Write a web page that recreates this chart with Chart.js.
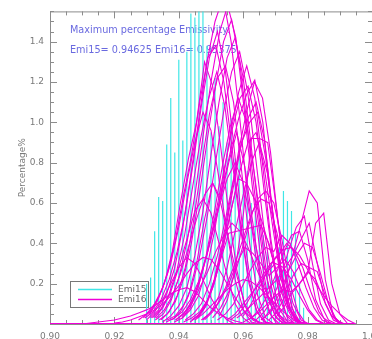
<!DOCTYPE html>
<html><head><meta charset="utf-8">
<script src="https://cdn.jsdelivr.net/npm/chart.js@4.4.1/dist/chart.umd.min.js"></script>
<style>
html,body{margin:0;padding:0;overflow:hidden;background:#fff;width:372px;height:339px}
#wrap{position:absolute;left:0;top:0;width:400px;height:339px}
</style>
</head><body><div id="wrap"><canvas id="c" width="400" height="339"></canvas></div>
<script>
// ---- tick labels / names / notes ----
const xTickLabels = ['0.90','0.92','0.94','0.96','0.98','1.00'];
const yTickLabels = ['0.2','0.4','0.6','0.8','1.0','1.2','1.4'];
const seriesNames = ['Emi15','Emi16'];
const yAxisTitle = 'Percentage%';
const noteLines = ['Maximum percentage Emissivity:', 'Emi15= 0.94625 Emi16= 0.95375'];

// ---- Emi15 (cyan spikes) ----
const emi15X = [0.93000,0.93125,0.93250,0.93375,0.93500,0.93625,0.93750,0.93875,0.94000,0.94125,
                0.94250,0.94375,0.94500,0.94625,0.94750,0.94875,0.95000,0.95125,0.95250,0.95375,
                0.95500,0.95625,0.95750,0.95875,0.96000,0.96125,0.96250,0.96375,0.96500,0.96625,
                0.96750,0.96875,0.97000,0.97125,0.97250,0.97375,0.97500,0.97625,0.97750,0.97875];
const emi15Y = [0.20,0.23,0.46,0.63,0.61,0.89,1.12,0.85,1.31,0.91,
                1.35,1.54,1.52,1.62,1.58,1.38,0.95,1.22,0.98,1.10,
                0.90,1.02,0.82,0.88,0.70,0.76,0.60,0.56,0.50,0.44,
                0.36,0.30,0.24,0.38,0.66,0.61,0.56,0.45,0.20,0.08];

// ---- Emi16 (magenta curves): bin width, start of each curve, values ----
const binWidth = 0.0025;
const emi16Start = [0.93125,0.9339,0.9364,0.9361,0.9295,0.9290,0.9305,0.9327,0.9386,0.9415,
                    0.9275,0.9350,0.9318,0.9440,0.9400,0.9330,0.9526,0.9455,0.9470,0.9200,
                    0.9100,0.9450,0.9550,0.9600,0.9300,0.9655,0.9640,0.9625,0.9600,0.9665,
                    0.9680,0.9475,0.9420,0.9390,0.9380,0.9435,0.9410,0.9345,0.9460,0.9505,
                    0.9520,0.9480,0.9390,0.9325,0.9560,0.9580,0.9700];
const emi16_01 = [0.03,0.07,0.15,0.28,0.48,0.74,1.02,1.3,1.5,1.62,1.4,1.05,0.65,0.35,0.15,0.04,0];
const emi16_02 = [0.02,0.05,0.11,0.22,0.4,0.64,0.92,1.18,1.4,1.51,1.3,0.96,0.6,0.3,0.11,0.03,0];
const emi16_03 = [0.02,0.04,0.09,0.18,0.33,0.54,0.8,1.05,1.25,1.35,1.15,0.82,0.48,0.22,0.07,0.01,0];
const emi16_04 = [0.01,0.03,0.06,0.12,0.21,0.34,0.5,0.68,0.86,1.02,1.14,1.21,1.0,0.62,0.3,0.1,0.02,0];
const emi16_05 = [0.03,0.06,0.12,0.22,0.36,0.55,0.8,1.08,1.32,1.45,1.25,0.9,0.52,0.24,0.08,0.01,0];
const emi16_06 = [0.03,0.07,0.14,0.25,0.42,0.64,0.84,1.1,1.32,1.38,1.2,0.88,0.52,0.24,0.07,0.01,0];
const emi16_07 = [0.04,0.1,0.2,0.36,0.6,0.82,1.0,1.3,1.18,0.88,0.55,0.27,0.09,0.02,0];
const emi16_08 = [0.02,0.05,0.12,0.24,0.42,0.66,0.95,1.22,1.45,1.58,1.42,1.08,0.7,0.36,0.13,0.03,0];
const emi16_09 = [0.01,0.03,0.07,0.14,0.27,0.46,0.7,0.95,1.15,1.28,1.12,0.78,0.42,0.16,0.04,0];
const emi16_10 = [0.01,0.03,0.06,0.12,0.24,0.42,0.64,0.86,1.02,1.1,0.92,0.58,0.28,0.09,0.02,0];
const emi16_11 = [0.02,0.05,0.1,0.18,0.3,0.48,0.7,0.9,1.05,0.96,0.72,0.45,0.22,0.07,0.01,0];
const emi16_12 = [0.01,0.04,0.09,0.18,0.34,0.56,0.84,1.1,1.32,1.42,1.22,0.88,0.52,0.22,0.06,0.01,0];
const emi16_13 = [0.03,0.07,0.14,0.26,0.44,0.68,0.92,1.12,1.25,1.08,0.78,0.46,0.2,0.06,0.01,0];
const emi16_14 = [0.02,0.05,0.12,0.24,0.4,0.58,0.76,0.9,0.95,0.78,0.5,0.24,0.08,0.01,0];
const emi16_15 = [0.03,0.07,0.15,0.27,0.42,0.58,0.72,0.8,0.7,0.5,0.3,0.14,0.04,0];
const emi16_16 = [0.03,0.07,0.14,0.25,0.38,0.52,0.64,0.7,0.6,0.42,0.24,0.1,0.03,0];
const emi16_17 = [0.04,0.12,0.28,0.55,0.92,0.92,0.9,0.6,0.28,0.08,0.01,0];
const emi16_18 = [0.03,0.08,0.18,0.32,0.45,0.46,0.47,0.48,0.49,0.4,0.24,0.1,0.02,0];
const emi16_19 = [0.02,0.05,0.1,0.18,0.28,0.4,0.52,0.62,0.66,0.6,0.42,0.2,0.06,0];
const emi16_20 = [0.005,0.01,0.02,0.035,0.05,0.07,0.1,0.14,0.19,0.25,0.3,0.33,0.32,0.27,0.2,0.13,0.07,0.03,0.01,0];
const emi16_21 = [0,0.005,0.01,0.015,0.02,0.03,0.04,0.055,0.07,0.09,0.12,0.15,0.17,0.18,0.16,0.12,0.08,0.05,0.03,0.015,0.005,0];
const emi16_22 = [0.02,0.05,0.09,0.13,0.17,0.2,0.22,0.21,0.18,0.14,0.1,0.06,0.03,0.01,0];
const emi16_23 = [0.02,0.05,0.1,0.15,0.2,0.26,0.3,0.28,0.22,0.14,0.07,0.02,0];
const emi16_24 = [0.01,0.03,0.06,0.1,0.14,0.17,0.16,0.2,0.26,0.22,0.12,0.04,0];
const emi16_25 = [0.02,0.06,0.12,0.2,0.28,0.33,0.3,0.22,0.13,0.06,0.02,0];
const emi16_26 = [0.02,0.05,0.1,0.2,0.35,0.5,0.66,0.6,0.22,0.04,0];
const emi16_27 = [0.02,0.06,0.12,0.22,0.36,0.48,0.535,0.3,0.1,0.02,0];
const emi16_28 = [0.03,0.07,0.14,0.24,0.35,0.44,0.46,0.32,0.12,0.03,0];
const emi16_29 = [0.04,0.1,0.18,0.26,0.33,0.37,0.38,0.34,0.27,0.2,0.14,0.09,0.05,0.02,0];
const emi16_30 = [0.03,0.08,0.16,0.26,0.34,0.4,0.38,0.25,0.1,0.02,0];
const emi16_31 = [0.02,0.06,0.14,0.24,0.3,0.28,0.26,0.14,0.04,0];
const emi16_32 = [0.02,0.06,0.14,0.28,0.46,0.64,0.8,0.9,0.75,0.45,0.2,0.06,0.01,0];
const emi16_33 = [0.02,0.05,0.1,0.2,0.34,0.52,0.72,0.9,1.0,1.05,0.82,0.5,0.25,0.08,0.01,0];
const emi16_34 = [0.02,0.05,0.11,0.21,0.36,0.55,0.76,0.96,1.12,1.18,1.0,0.66,0.34,0.12,0.02,0];
const emi16_35 = [0.02,0.06,0.14,0.3,0.52,0.7,0.62,0.8,0.95,0.78,0.5,0.22,0.06,0];
const emi16_36 = [0.01,0.04,0.1,0.22,0.4,0.62,0.85,1.05,1.2,1.12,0.85,0.48,0.18,0.04,0];
const emi16_37 = [0.03,0.08,0.18,0.34,0.55,0.78,0.98,1.12,1.0,0.74,0.45,0.2,0.05,0];
const emi16_38 = [0.02,0.06,0.14,0.28,0.5,0.78,1.04,1.22,1.28,1.1,0.76,0.4,0.14,0.03,0];
const emi16_39 = [0.03,0.09,0.2,0.36,0.55,0.72,0.7,0.62,0.5,0.36,0.22,0.1,0.03,0];
const emi16_40 = [0.03,0.08,0.16,0.28,0.42,0.56,0.62,0.6,0.45,0.26,0.1,0.02,0];
const emi16_41 = [0.02,0.05,0.1,0.18,0.26,0.33,0.38,0.36,0.44,0.4,0.3,0.18,0.08,0.02,0];
const emi16_42 = [0.02,0.06,0.12,0.2,0.3,0.38,0.35,0.3,0.24,0.28,0.32,0.26,0.16,0.07,0.02,0];
const emi16_43 = [0.02,0.05,0.1,0.18,0.26,0.36,0.44,0.5,0.46,0.38,0.28,0.18,0.1,0.04,0.01,0];
const emi16_44 = [0.03,0.08,0.16,0.28,0.42,0.56,0.62,0.55,0.4,0.24,0.1,0.03,0];
const emi16_45 = [0.02,0.05,0.1,0.17,0.24,0.3,0.34,0.4,0.36,0.28,0.16,0.06,0.01,0];
const emi16_46 = [0.03,0.06,0.1,0.14,0.18,0.22,0.28,0.34,0.42,0.5,0.3,0.1,0.02,0];
const emi16_47 = [0.03,0.08,0.15,0.2,0.25,0.5,0.55,0.2,0.05,0];
const emi16BaseX = [0.90, 0.9945];
const emi16BaseY = [0, 0];

const emi16Curves = [emi16_01,emi16_02,emi16_03,emi16_04,emi16_05,emi16_06,emi16_07,emi16_08,emi16_09,emi16_10,
                     emi16_11,emi16_12,emi16_13,emi16_14,emi16_15,emi16_16,emi16_17,emi16_18,emi16_19,emi16_20,
                     emi16_21,emi16_22,emi16_23,emi16_24,emi16_25,emi16_26,emi16_27,emi16_28,emi16_29,emi16_30,
                     emi16_31,emi16_32,emi16_33,emi16_34,emi16_35,emi16_36,emi16_37,emi16_38,emi16_39,emi16_40,
                     emi16_41,emi16_42,emi16_43,emi16_44,emi16_45,emi16_46,emi16_47];

// ---- styles ----
const CYAN = '#3fe6e6';
const MAGENTA = '#f000d8';
const AXIS = '#8c8c8c';
const TXT = '#7a7a7a';
const NOTE = '#6a6ae0';
const FONT = '"DejaVu Sans", sans-serif';

// ---- build datasets ----
const datasets = [];
const cyanPts = [];
emi15X.forEach((x, i) => { cyanPts.push({x, y: 0}, {x, y: emi15Y[i]}, {x, y: 0}); });
datasets.push({label: seriesNames[0], data: cyanPts, borderColor: CYAN, borderWidth: 1.2, order: 2});
emi16Curves.forEach((vals, c) => {
  const s = emi16Start[c];
  datasets.push({label: seriesNames[1], data: vals.map((v, j) => ({x: s + j * binWidth, y: v})),
    borderColor: MAGENTA, borderWidth: 1.1, order: 1});
});
datasets.push({label: seriesNames[1], data: emi16BaseX.map((x, i) => ({x, y: emi16BaseY[i]})),
  borderColor: MAGENTA, borderWidth: 2, order: 1});

const frame = {
  id: 'frame',
  beforeDatasetsDraw(chart) {
    const {ctx, chartArea: a, scales: {x, y}} = chart;
    ctx.save();
    ctx.strokeStyle = AXIS; ctx.lineWidth = 1;
    ctx.strokeRect(a.left + 0.5, a.top + 0.5, a.right - a.left, a.bottom - a.top);
    ctx.beginPath();
    for (let i = 0; i <= 20; i++) {
      const px = Math.round(x.getPixelForValue(x.min + i * 0.005)) + 0.5;
      const L = i % 4 === 0 ? 7 : 4;
      ctx.moveTo(px, a.bottom); ctx.lineTo(px, a.bottom - L);
      ctx.moveTo(px, a.top); ctx.lineTo(px, a.top + L);
    }
    for (let i = 0; i * 0.05 <= y.max + 1e-9; i++) {
      const py = Math.round(y.getPixelForValue(i * 0.05)) + 0.5;
      const L = i % 4 === 0 ? 7 : 4;
      ctx.moveTo(a.left, py); ctx.lineTo(a.left + L, py);
      ctx.moveTo(a.right, py); ctx.lineTo(a.right - L, py);
    }
    ctx.stroke();
    // notes
    ctx.fillStyle = NOTE; ctx.font = '9.7px ' + FONT; ctx.textBaseline = 'middle'; ctx.textAlign = 'left';
    ctx.fillText(noteLines[0], a.left + 20, 30);
    ctx.fillText(noteLines[1], a.left + 20, 50);
    // legend
    ctx.strokeStyle = '#777'; ctx.lineWidth = 1;
    ctx.strokeRect(70.5, 281.5, 78, 26);
    ctx.lineWidth = 1.5;
    ctx.strokeStyle = CYAN; ctx.beginPath(); ctx.moveTo(78, 289.5); ctx.lineTo(112, 289.5); ctx.stroke();
    ctx.strokeStyle = MAGENTA; ctx.beginPath(); ctx.moveTo(78, 299.5); ctx.lineTo(112, 299.5); ctx.stroke();
    ctx.fillStyle = '#666'; ctx.font = '9px ' + FONT;
    ctx.fillText(seriesNames[0], 118, 289.5);
    ctx.fillText(seriesNames[1], 118, 299.5);
    ctx.restore();
  }
};

const findLabel = (arr, v) => { const l = arr.find(t => Math.abs(parseFloat(t) - v) < 1e-6); return l === undefined ? '' : l; };

new Chart(document.getElementById('c'), {
  type: 'line',
  data: {datasets},
  options: {
    responsive: false, animation: false, devicePixelRatio: 1,
    layout: {padding: {left: 0, right: 28, top: 9, bottom: 0}},
    plugins: {legend: {display: false}, tooltip: {enabled: false}},
    elements: {point: {radius: 0}, line: {tension: 0}},
    scales: {
      x: {type: 'linear', min: 0.90, max: 1.00,
          ticks: {stepSize: 0.02, autoSkip: false, maxRotation: 0, padding: 7, color: TXT,
                  font: {family: FONT, size: 9}, callback: v => findLabel(xTickLabels, v)},
          grid: {display: false, drawTicks: false}, border: {display: false},
          afterFit: s => { s.height = 15; }},
      y: {type: 'linear', min: 0, max: 1.55,
          ticks: {stepSize: 0.2, autoSkip: false, padding: 6, color: TXT,
                  font: {family: FONT, size: 9}, callback: v => findLabel(yTickLabels, v)},
          title: {display: true, text: yAxisTitle, color: TXT, font: {family: FONT, size: 9},
                  padding: {top: 17, bottom: 0}},
          grid: {display: false, drawTicks: false}, border: {display: false},
          afterFit: s => { s.width = 50; }}
    }
  },
  plugins: [frame]
});
</script>
</body></html>
